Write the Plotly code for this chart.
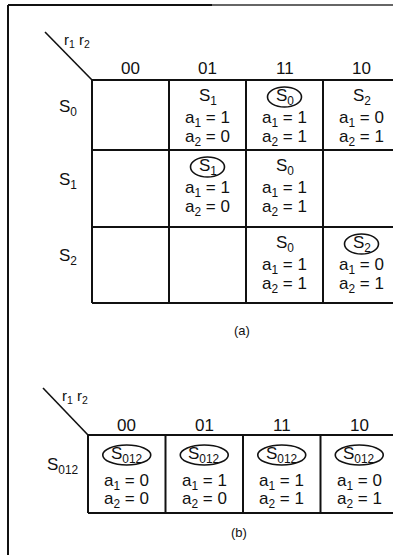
import plotly.graph_objects as go

# ---------------- data ----------------
COLS = ["00", "01", "11", "10"]                 # input combinations r1 r2
ROWS_A = ["0", "1", "2"]                        # state subscripts, table (a)
NEXT_A = [[None, "1", "0", "2"],
          [None, "1", "0", None],
          [None, None, "0", "2"]]
STABLE_A = [[False, False, True, False],
            [False, True, False, False],
            [False, False, False, True]]
A1_A = [[None, 1, 1, 0],
        [None, 1, 1, None],
        [None, None, 1, 0]]
A2_A = [[None, 0, 1, 1],
        [None, 0, 1, None],
        [None, None, 1, 1]]

ROWS_B = ["012"]                                # merged state, table (b)
NEXT_B = [["012", "012", "012", "012"]]
STABLE_B = [[True, True, True, True]]
A1_B = [[0, 1, 1, 0]]
A2_B = [[0, 0, 1, 1]]

INPUT_LABEL = "r<sub>1</sub> r<sub>2</sub>"
CAPTIONS = ["(a)", "(b)"]

# ---------------- layout constants ----------------
W, H = 393, 555
FONT = "Liberation Sans, Arial, sans-serif"
FS = 17
INK = "#111111"

shapes = []
annotations = []


def line(x0, y0, x1, y1, width=2, color=INK):
    shapes.append(dict(type="line", xref="x", yref="y", x0=x0, y0=y0, x1=x1, y1=y1,
                       line=dict(color=color, width=width)))


def text(x, y, s, xanchor="center", size=FS):
    annotations.append(dict(x=x, y=y, xref="x", yref="y", text=s, showarrow=False,
                            xanchor=xanchor, yanchor="middle",
                            font=dict(family=FONT, size=size, color=INK)))


def table(x0, col_w, row_edges, rows, nxt, stable, a1, a2, diag, col_label_y,
          off1, off2, off3, label_x, caption, caption_y):
    top = row_edges[0]
    bottom = row_edges[-1]
    # diagonal and input label
    line(diag[0], diag[1], x0, top, width=1.6)
    text(diag[0] + 17, diag[1] + 8, INPUT_LABEL, xanchor="left", size=15)
    # column labels
    for j, c in enumerate(COLS):
        text(x0 + col_w * (j + 0.5), col_label_y, c)
    # grid
    for e in row_edges:
        line(x0, e, W, e)
    for j in range(len(COLS) + 1):
        xe = x0 + col_w * j
        if xe <= W:
            line(xe, top, xe, bottom)
    # rows
    for i, r in enumerate(rows):
        yt, yb = row_edges[i], row_edges[i + 1]
        text(label_x, yt + 0.4 * (yb - yt), "S<sub>%s</sub>" % r, xanchor="right")
        for j in range(len(COLS)):
            cx = x0 + col_w * (j + 0.5)
            if nxt[i][j] is not None:
                s = nxt[i][j]
                text(cx, yt + off1, "S<sub>%s</sub>" % s)
                if stable[i][j]:
                    ew = 27 + 7 * len(s)
                    shapes.append(dict(type="circle", xref="x", yref="y",
                                       x0=cx - ew / 2, x1=cx + ew / 2,
                                       y0=yt + off1 - 10, y1=yt + off1 + 10,
                                       line=dict(color=INK, width=1.6)))
            if a1[i][j] is not None:
                text(cx, yt + off2, "a<sub>1</sub> = %d" % a1[i][j])
            if a2[i][j] is not None:
                text(cx, yt + off3, "a<sub>2</sub> = %d" % a2[i][j])
    text(x0 + col_w * 1.95, caption_y, caption, size=13)


# outer frame (top and left edges of the scanned page)
line(8, 5, 212, 5, width=2)
line(212, 5, W, 5, width=2, color="#666666")
line(8, 5, 8, H, width=2)

table(92, 77, [80, 150, 227, 303], ROWS_A, NEXT_A, STABLE_A, A1_A, A2_A,
      diag=(45, 32), col_label_y=68, off1=17, off2=39, off3=58,
      label_x=79, caption=CAPTIONS[0], caption_y=330)
table(88, 77.5, [435, 513], ROWS_B, NEXT_B, STABLE_B, A1_B, A2_B,
      diag=(43, 388), col_label_y=425, off1=20, off2=47, off3=65,
      label_x=81, caption=CAPTIONS[1], caption_y=532)

fig = go.Figure()
fig.add_trace(go.Scatter(x=[0, W], y=[0, H], mode="markers",
                         marker=dict(opacity=0), hoverinfo="skip", showlegend=False))
fig.update_layout(
    width=W, height=H,
    margin=dict(l=0, r=0, t=0, b=0),
    paper_bgcolor="white", plot_bgcolor="white",
    xaxis=dict(range=[0, W], visible=False, fixedrange=True),
    yaxis=dict(range=[H, 0], visible=False, fixedrange=True),
    shapes=shapes, annotations=annotations, showlegend=False,
)
fig.write_html(
    "out.html",
    config={"displayModeBar": False},
    post_script="document.body.style.margin='0px';document.body.style.overflow='hidden';",
)
